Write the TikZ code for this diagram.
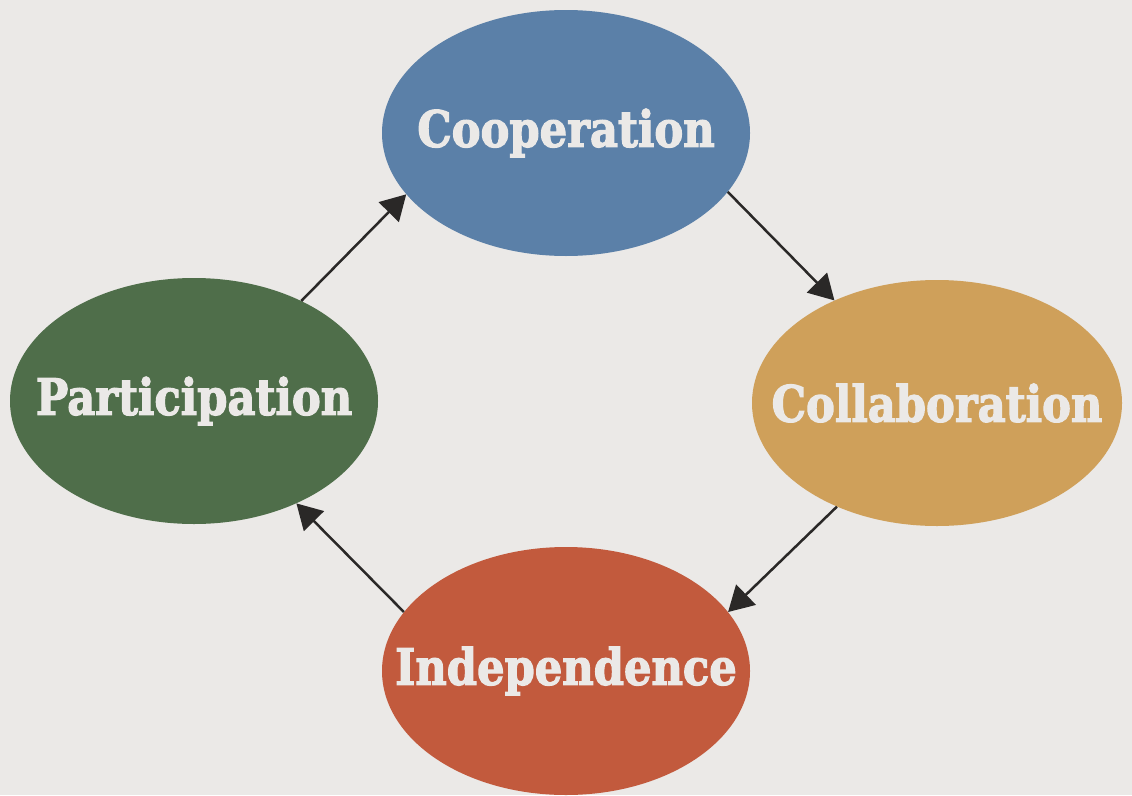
\documentclass[tikz,border=0pt]{standalone}
\usepackage{fontspec}
\setmainfont{DejaVu Serif}
\newfontfamily\bubblefont{DejaVu Serif}[BoldFeatures={FakeBold=2.6}]
\usetikzlibrary{shapes.geometric,arrows.meta}

\definecolor{paper}{HTML}{EBE9E7}
\definecolor{coopblue}{HTML}{5B80A8}
\definecolor{collgold}{HTML}{CFA05A}
\definecolor{indred}{HTML}{C25A3D}
\definecolor{partgreen}{HTML}{4F6E4A}
\definecolor{ink}{HTML}{2A2827}

% heavy, narrow label text
\newcommand{\bubbletext}[1]{\scalebox{0.865}[1]{\bubblefont\bfseries #1}}

\begin{document}
\begin{tikzpicture}[x=1pt,y=-1pt,
  bubble/.style={ellipse,inner sep=0pt,minimum width=368pt,minimum height=246pt,
    label={[text=paper,font=\fontsize{50}{52}\selectfont]center:{\bubbletext{#1}}}},
  cycle/.style={ink,line width=2.5pt,-{Triangle[length=25pt,width=28pt]}}]

\fill[paper](0,0) rectangle (1132,795);
\useasboundingbox (0,0) rectangle (1132,795);

\node[bubble=Cooperation,fill=coopblue] (coop) at (566,133) {};
\node[bubble=Collaboration,fill=collgold,minimum width=370pt] (coll) at (937,403) {};
\node[bubble=Independence,fill=indred,minimum height=248pt] (indep) at (566,671) {};
\node[bubble=Participation,fill=partgreen] (part) at (194,401) {};

\draw[cycle](part.43)--(coop.201);
\draw[cycle](coop.340)--(coll.135);
\draw[cycle](coll.226)--(indep.20);
\draw[cycle](indep.160)--(part.315);

\end{tikzpicture}
\end{document}
